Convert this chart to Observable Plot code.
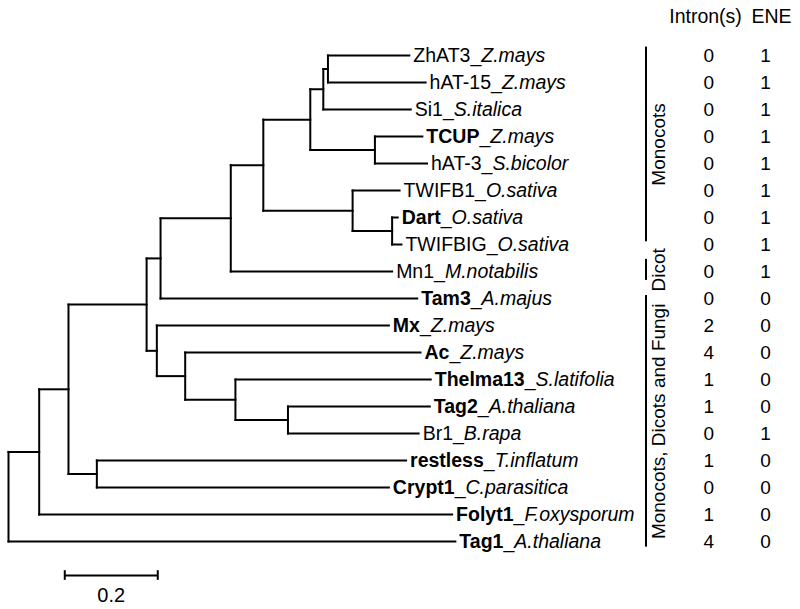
<!DOCTYPE html>
<html>
<head>
<meta charset="utf-8">
<script src="https://cdn.jsdelivr.net/npm/d3@7"></script>
<script src="https://cdn.jsdelivr.net/npm/@observablehq/plot@0.6"></script>
<style>
  html, body { margin: 0; padding: 0; background: #fff; }
  #chart { width: 800px; height: 609px; }
</style>
</head>
<body>
<div id="chart"></div>
<script>
// ---- Tree data (leaves, top to bottom) ----
const leafNames   = ["ZhAT3","hAT-15","Si1","TCUP","hAT-3","TWIFB1","Dart","TWIFBIG","Mn1","Tam3","Mx","Ac","Thelma13","Tag2","Br1","restless","Crypt1","Folyt1","Tag1"];
const leafSpecies = ["Z.mays","Z.mays","S.italica","Z.mays","S.bicolor","O.sativa","O.sativa","O.sativa","M.notabilis","A.majus","Z.mays","Z.mays","S.latifolia","A.thaliana","B.rapa","T.inflatum","C.parasitica","F.oxysporum","A.thaliana"];
const leafBold    = [false,false,false,true,false,false,true,false,false,true,true,true,true,true,false,true,true,true,true];
const leafParent  = ["n10","n10","n9","n11","n11","n12","n13","n13","n6","n5","n14","n15","n16","n17","n17","n3","n3","n1","root"];
// cumulative distance from root (substitutions per site)
const leafDepth   = [0.862,0.897,0.865,0.890,0.900,0.841,0.837,0.845,0.825,0.879,0.818,0.886,0.908,0.906,0.882,0.855,0.818,0.954,0.961];

// ---- Internal nodes ----
const nodeIds     = ["root","n1","n2","n3","n4","n5","n6","n7","n8","n9","n10","n11","n12","n13","n14","n15","n16","n17"];
const nodeParent  = [null,"root","n1","n2","n2","n4","n5","n6","n7","n8","n9","n8","n7","n12","n4","n14","n15","n16"];
const nodeDepth   = [0,0.066,0.129,0.190,0.297,0.327,0.478,0.548,0.649,0.677,0.687,0.788,0.740,0.825,0.319,0.380,0.488,0.601];

// ---- Table columns ----
const columnHeaders = ["Intron(s)","ENE"];
const introns = [0,0,0,0,0,0,0,0,0,0,2,4,1,1,0,1,0,1,4];
const ene     = [1,1,1,1,1,1,1,1,1,0,0,0,0,0,1,0,0,0,0];

// ---- Clade brackets (extent in leaf rows) ----
const cladeNames = ["Monocots","Dicot","Monocots, Dicots and Fungi"];
const cladeStart = [-0.31,7.55,8.89];
const cladeEnd   = [6.9,8.33,18.21];

// ---- Scale bar ----
const scaleBarLength = 0.2;

// ---- Build tree geometry ----
const nodes = new Map();
nodeIds.forEach((id,i)=>nodes.set(id,{id,parent:nodeParent[i],depth:nodeDepth[i],children:[]}));
leafNames.forEach((n,i)=>nodes.set("leaf"+i,{id:"leaf"+i,parent:leafParent[i],depth:leafDepth[i],children:[],row:i}));
for (const nd of nodes.values()) if (nd.parent) nodes.get(nd.parent).children.push(nd);
function setY(nd){
  if (nd.children.length===0) { nd.y = nd.row; return nd.y; }
  const ys = nd.children.map(setY);
  nd.yMin = d3.min(ys); nd.yMax = d3.max(ys);
  nd.y = (nd.yMin + nd.yMax)/2;
  return nd.y;
}
setY(nodes.get("root"));
const horiz = [], vert = [];
for (const nd of nodes.values()){
  if (nd.parent){ const p = nodes.get(nd.parent); horiz.push({x1:p.depth,x2:nd.depth,y:nd.y}); }
  if (nd.children.length){ vert.push({x:nd.depth,y1:nd.yMin,y2:nd.yMax}); }
}
const leaves = leafNames.map((n,i)=>({name:n,species:leafSpecies[i],bold:leafBold[i],depth:leafDepth[i],row:i,intron:introns[i],ene:ene[i]}));
const clades = cladeNames.map((n,i)=>({name:n,y1:cladeStart[i],y2:cladeEnd[i],mid:(cladeStart[i]+cladeEnd[i])/2}));

// layout constants (in x-scale units)
const colX = [1.506,1.628], headX = [1.499,1.641];
const bracketX = 1.371, bracketTextX = 1.398;
const barStart = 0.121, barRow = 19.26;

const font = "'Liberation Sans', Arial, Helvetica, sans-serif";
const svg = Plot.plot({
  width: 800, height: 609, margin: 0,
  x: {domain:[0,1], range:[8,473], axis:null},
  y: {domain:[0,18], range:[55,541], axis:null},
  style: {fontFamily: font, fontSize: "19px", color: "#000", background: "#fff", overflow: "visible"},
  marks: [
    Plot.link(horiz, {x1:"x1", x2:"x2", y1:"y", y2:"y", stroke:"#000", strokeWidth:2, strokeLinecap:"square"}),
    Plot.link(vert, {x1:"x", x2:"x", y1:"y1", y2:"y2", stroke:"#000", strokeWidth:2, strokeLinecap:"square"}),
    Plot.text(leaves, {x:"depth", y:"row", text:d=>d.name+"_"+d.species, dx:4, textAnchor:"start", lineAnchor:"middle", fontSize:19.5, fill:"#000", className:"leaf-label"}),
    Plot.text(leaves, {x:colX[0], y:"row", text:d=>String(d.intron), fontSize:19, fill:"#000"}),
    Plot.text(leaves, {x:colX[1], y:"row", text:d=>String(d.ene), fontSize:19, fill:"#000"}),
    Plot.text(columnHeaders, {x:(d,i)=>headX[i], y:-1.42, text:d=>d, fontSize:19.5, fill:"#000"}),
    Plot.ruleX(clades, {x:bracketX, y1:"y1", y2:"y2", stroke:"#000", strokeWidth:2}),
    Plot.text(clades, {x:bracketTextX, y:"mid", text:"name", rotate:-90, fontSize:19, fill:"#000"}),
    Plot.link([scaleBarLength], {x1:barStart, x2:d=>barStart+d, y1:barRow, y2:barRow, stroke:"#000", strokeWidth:2}),
    Plot.ruleX([barStart, barStart+scaleBarLength], {x:d=>d, y1:barRow-0.18, y2:barRow+0.18, stroke:"#000", strokeWidth:2}),
    Plot.text([scaleBarLength], {x:d=>barStart+d/2, y:20.0, text:d=>d3.format(".1f")(d), fontSize:20, fill:"#000"})
  ]
});

// Style leaf labels: bold element name, italic species
d3.select(svg).selectAll("g.leaf-label text").each(function(){
  const full = this.textContent;
  const k = full.indexOf("_");
  const name = full.slice(0,k), sp = full.slice(k+1);
  const bold = leafBold[leafNames.indexOf(name)];
  const t = d3.select(this);
  t.text(null);
  t.append("tspan").attr("font-weight", bold ? "bold" : "normal").text(name);
  t.append("tspan").text("_");
  t.append("tspan").attr("font-style","italic").text(sp);
});

document.getElementById("chart").appendChild(svg);
</script>
</body>
</html>
